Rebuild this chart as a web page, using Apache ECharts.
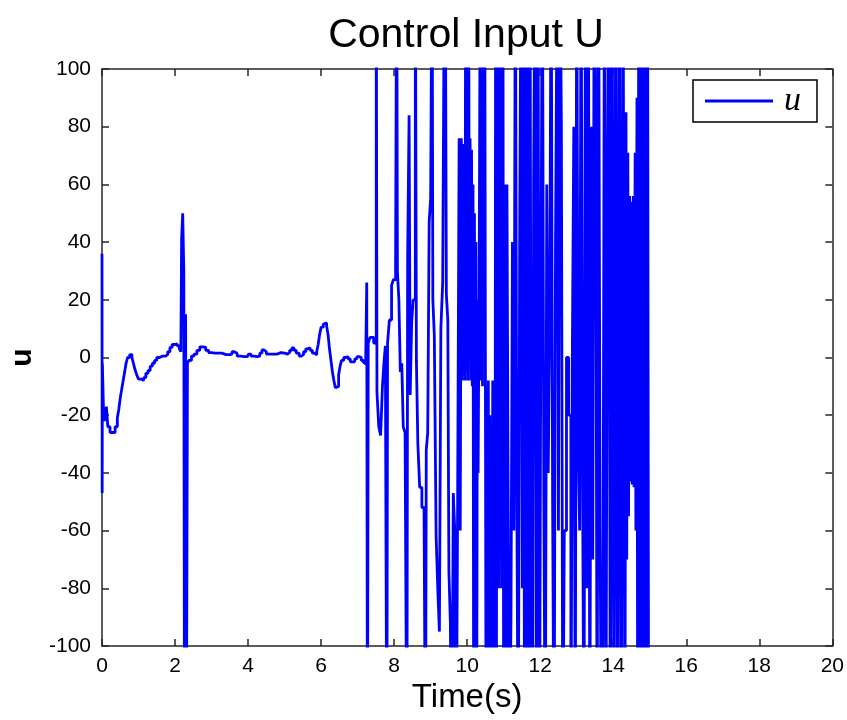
<!DOCTYPE html>
<html>
<head>
<meta charset="utf-8">
<script src="https://cdn.jsdelivr.net/npm/echarts@6/dist/echarts.min.js"></script>
<style>
html,body{margin:0;padding:0;background:#fff;}
#chart{width:847px;height:720px;}
</style>
</head>
<body>
<div id="chart"></div>
<script>
// Time ticks and value ticks
const xTicks = [0, 2, 4, 6, 8, 10, 12, 14, 16, 18, 20];
const yTicks = [-100, -80, -60, -40, -20, 0, 20, 40, 60, 80, 100];

// Smooth part of the control input (0 - 7.25 s)
const smoothTime = [0, 0.005, 0.01, 0.04, 0.08, 0.12, 0.16, 0.22, 0.3, 0.36, 0.42, 0.46, 0.5, 0.54, 0.58, 0.62, 0.66, 0.7, 0.76, 0.82, 0.86, 0.9, 0.95, 1.0, 1.08, 1.14, 1.2, 1.26, 1.32, 1.38, 1.44, 1.5, 1.58, 1.66, 1.74, 1.8, 1.86, 1.92, 2.0, 2.06, 2.12, 2.16,
  2.18, 2.21, 2.24, 2.26, 2.29, 2.31, 2.34, 2.38, 2.45, 2.52, 2.6, 2.68, 2.76, 2.84, 2.92, 3.0, 3.1, 3.2, 3.28, 3.4, 3.5, 3.56, 3.62, 3.7, 3.8, 3.9, 3.98, 4.02, 4.08, 4.16, 4.26, 4.32, 4.38, 4.44, 4.5, 4.6, 4.7, 4.8, 4.9, 5.0, 5.08, 5.14, 5.2, 5.26, 5.32, 5.4, 5.46, 5.52, 5.58, 5.64, 5.7, 5.76, 5.82, 5.88, 5.92, 5.96, 6.0, 6.06, 6.1, 6.15, 6.19, 6.23, 6.27, 6.31, 6.35, 6.39, 6.44, 6.48, 6.52, 6.56, 6.62, 6.68, 6.74, 6.8, 6.86, 6.92, 6.98, 7.04, 7.1, 7.16, 7.22];
const smoothU = [36, -47, -2, -18, -22, -17, -24, -26, -26, -24, -21, -18, -14, -11, -8, -5, -2, 0, 1, 0, -2, -4, -6, -7.5, -8, -7, -5.5, -4.5, -3, -2, -1, 0, 0.5, 0.5, 1, 2, 3.5, 4.5, 4.7, 4, 3, 2,
  41, 50, 30, -150, 15, -150, -2, -1, 0.5, 1.2, 2.5, 3.7, 3.5, 2.5, 1.7, 1.5, 1.5, 1.5, 1, 1, 1.2, 2, 1.5, 0.5, 0.3, 0.3, 0.5, 1.2, 0.5, 0.3, 0.5, 1.5, 2.6, 2, 1.2, 1.2, 1.2, 1.7, 1.5, 1.2, 1.8, 2.5, 3.3, 2.5, 1.5, 0.5, 1, 2, 3, 3.4, 2.5, 1.5, 0.9, 2, 4.5, 8, 10.5, 11.5, 12, 11, 8, 3, -1, -5, -8, -10.5, -10, -6, -3, -1, 0, 0.3, -0.5, -1.5, -1.5, -0.5, 0.3, 0, -1, -1.8, -2.6];

// Oscillating part (7.25 - 9.3 s)
const oscTime1 = [7.25, 7.27, 7.29, 7.34, 7.44, 7.51, 7.53, 7.58, 7.63, 7.68, 7.72, 7.76, 7.8, 7.82, 7.87, 7.93, 7.98, 8.04, 8.07, 8.09, 8.13, 8.17, 8.21, 8.25, 8.3, 8.35, 8.37, 8.41, 8.44, 8.48, 8.52, 8.58, 8.61, 8.65, 8.7, 8.76, 8.82, 8.86, 8.88, 8.92, 8.96, 9.0, 9.04, 9.06, 9.1, 9.15, 9.2, 9.24];
const oscU1 = [26, -150, 5, 7, 5, 150, -12, -24, -27, -10, -2, 4, -150, 5, 13, 25, 27, 31, 150, 30, 20, -5, -2, -24, -26, -150, 35, 84, -13, 12, 20, 150, -1, -30, -45, -52, -55, -150, -32, -26, 47, 55, 150, 20, 8, -62, -82, -95];

// Oscillating part (9.3 - 13.9 s)
const oscTime2 = [9.28, 9.33, 9.36, 9.4, 9.43, 9.47, 9.5, 9.54, 9.58, 9.62, 9.66, 9.7, 9.74, 9.78, 9.81,
  9.84, 9.86, 9.88, 9.9, 9.92, 9.94, 9.96, 9.98, 10.0, 10.02, 10.04, 10.06, 10.08, 10.1, 10.12, 10.14, 10.16, 10.18, 10.2, 10.22, 10.24, 10.26, 10.28, 10.3,
  10.33,
  10.36, 10.38, 10.4, 10.42, 10.44, 10.46, 10.48, 10.5, 10.52, 10.54, 10.56, 10.58, 10.6, 10.62, 10.64, 10.66, 10.68, 10.7, 10.72, 10.74, 10.76, 10.78, 10.8, 10.82, 10.84, 10.86, 10.88, 10.9, 10.92, 10.94, 10.96, 10.98, 11.0,
  11.03, 11.06, 11.09, 11.12,
  11.16, 11.2, 11.24, 11.28, 11.32, 11.36, 11.4, 11.44, 11.48, 11.51, 11.54, 11.57, 11.6, 11.63, 11.66, 11.69, 11.72, 11.75, 11.79, 11.82, 11.86, 11.9, 11.94, 11.98,
  12.02, 12.06, 12.1, 12.14, 12.18, 12.22, 12.26, 12.3, 12.34, 12.38, 12.42, 12.47, 12.5, 12.54, 12.58, 12.62, 12.66, 12.72, 12.78, 12.84, 12.88, 12.92, 12.96,
  13.0, 13.04, 13.08, 13.12, 13.16, 13.2, 13.24, 13.28, 13.32, 13.36, 13.4, 13.44, 13.48, 13.52, 13.56, 13.6, 13.64, 13.68, 13.72, 13.76, 13.8, 13.84, 13.88];
const oscU2 = [10, 26, 98, 150, 22, 13, -74, -92, -150, -47, -60, -150, -48, 76, -60,
  76, -8, 74, -6, 70, -8, 150, -5, 150, -8, 150, 0, 76, -8, 72, -10, 60, -150, 50, -150, 40, -150, 20, -40,
  30,
  150, -8, 150, -10, 150, 86, 150, -8, -150, -10, -150, -8, -150, -20, -150, -60, -150, -8, -150, -70, -150, 150, -150, 150, -60, 150, -80, 150, -30, 150, -80, 150, -150,
  60, -150, 60, -40,
  -150, -90, 40, -60, 150, -50, -150, 50, 150, -80, 150, -150, 150, -150, 150, -150, 150, -40, -150, 60, 150, -150, 150, -150,
  20, 150, -50, -150, 60, -40, 10, 150, -50, -150, 40, 150, -60, 150, 80, -150, -60, 0, -20, -150, 0, 80, -150,
  150, -30, -60, 150, -40, -150, 150, -80, 150, -150, 80, -70, 150, 90, -150, 150, -60, -150, -90, 150, -150, 60, 150];

// Dense saturated bands (13.9 - 15 s)
const bandTime = [13.92, 13.97, 14.02, 14.07, 14.12, 14.17, 14.22, 14.27, 14.3, 14.32, 14.35, 14.37, 14.4, 14.42, 14.45, 14.47, 14.5, 14.52, 14.55, 14.57, 14.6, 14.62, 14.65, 14.67, 14.7, 14.74, 14.78, 14.82, 14.86, 14.9, 14.94, 14.97];
const bandU = [-150, 150, -150, 150, -150, 150, -150, 150, 150, -150, 85, -70, 71, -55, 56, -43, 54, -44, 56, -45, 71, -60, 90, -150, 150, -150, 150, -150, 150, -150, 150, -150];

const seriesData = smoothTime.map((t, i) => [t, smoothU[i]])
  .concat(oscTime1.map((t, i) => [t, oscU1[i]]))
  .concat(oscTime2.map((t, i) => [t, oscU2[i]]))
  .concat(bandTime.map((t, i) => [t, bandU[i]]));

const axisLineStyle = { color: '#262626', width: 1.5 };
const tickFont = "'Liberation Sans', Arial, sans-serif";

const chart = echarts.init(document.getElementById('chart'), null, { renderer: 'canvas' });
chart.setOption({
  backgroundColor: '#ffffff',
  animation: false,
  title: {
    text: 'Control Input U',
    left: 461,
    textAlign: 'center',
    top: 10,
    textStyle: { fontFamily: "'Liberation Sans', Arial, sans-serif", fontSize: 41, fontWeight: 'normal', color: '#000' }
  },
  legend: {
    data: [{ name: 'u', icon: 'rect' }],
    left: 693,
    top: 80,
    orient: 'horizontal',
    itemWidth: 68,
    itemHeight: 3,
    itemGap: 0,
    padding: [1, 16, 1, 12],
    borderColor: '#000',
    borderWidth: 1.5,
    backgroundColor: '#fff',
    textStyle: { fontFamily: "'Liberation Serif', 'DejaVu Serif', serif", fontStyle: 'italic', fontSize: 34, color: '#000', lineHeight: 34, padding: [0, 0, 6, 6] }
  },
  grid: { left: 97, right: 13, top: 69, bottom: 74, containLabel: false },
  xAxis: [{
    type: 'value', min: 0, max: 20, interval: 2, position: 'bottom',
    name: 'Time(s)', nameLocation: 'middle', nameGap: 35,
    nameTextStyle: { fontFamily: "'Liberation Sans', Arial, sans-serif", fontSize: 33, color: '#000' },
    axisLine: { show: true, onZero: false, lineStyle: axisLineStyle },
    axisTick: { show: true, inside: true, length: 7, lineStyle: axisLineStyle },
    axisLabel: { margin: 10, fontFamily: tickFont, fontSize: 21, color: '#000',
      formatter: v => String(xTicks[xTicks.indexOf(v)]) },
    splitLine: { show: false }
  }, {
    type: 'value', min: 0, max: 20, interval: 2, position: 'top',
    axisLine: { show: true, onZero: false, lineStyle: axisLineStyle },
    axisTick: { show: true, inside: true, length: 7, lineStyle: axisLineStyle },
    axisLabel: { show: false }, splitLine: { show: false }
  }],
  yAxis: [{
    type: 'value', min: -100, max: 100, interval: 20, position: 'left',
    name: 'u', nameLocation: 'middle', nameGap: 64,
    nameTextStyle: { fontFamily: "'Liberation Sans', Arial, sans-serif", fontSize: 30, fontWeight: 'bold', color: '#000' },
    axisLine: { show: true, onZero: false, lineStyle: axisLineStyle },
    axisTick: { show: true, inside: true, length: 7, lineStyle: axisLineStyle },
    axisLabel: { margin: 11, fontFamily: tickFont, fontSize: 21, color: '#000',
      formatter: v => String(yTicks[yTicks.indexOf(v)]) },
    splitLine: { show: false }
  }, {
    type: 'value', min: -100, max: 100, interval: 20, position: 'right',
    axisLine: { show: true, onZero: false, lineStyle: axisLineStyle },
    axisTick: { show: true, inside: true, length: 7, lineStyle: axisLineStyle },
    axisLabel: { show: false }, splitLine: { show: false }
  }],
  series: [{
    name: 'u',
    type: 'line',
    xAxisIndex: 0,
    yAxisIndex: 0,
    step: 'end',
    symbol: 'none',
    showSymbol: false,
    clip: true,
    data: seriesData,
    lineStyle: { color: '#0000ff', width: 2.8 },
    itemStyle: { color: '#0000ff' }
  }]
});
</script>
</body>
</html>
